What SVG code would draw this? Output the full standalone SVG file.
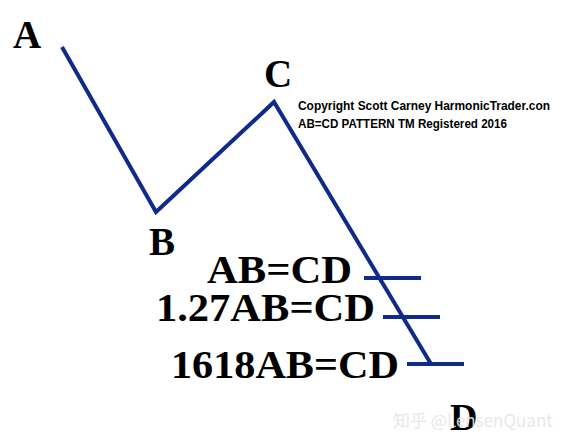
<svg xmlns="http://www.w3.org/2000/svg" width="563" height="443" viewBox="0 0 563 443">
<style>
.pt{font-family:"Liberation Serif","Times New Roman",serif;font-weight:bold;fill:#000;}
.lbl{font-family:"Liberation Serif","Times New Roman",serif;font-weight:bold;font-size:39px;fill:#000;}
.ln{stroke:#0f2a8a;stroke-width:4;fill:none;stroke-linejoin:miter;}
.cp{font-family:"Liberation Sans",Arial,sans-serif;font-weight:bold;font-size:12.5px;fill:#000;}
</style>
<rect width="563" height="443" fill="#fff"/>
<g id="connectors">
<polyline class="ln" points="62,47 156,212 274,102 431,364"/>
<line class="ln" x1="364" y1="278" x2="421" y2="278"/>
<line class="ln" x1="383" y1="317" x2="440" y2="317"/>
<line class="ln" x1="407" y1="364" x2="464" y2="364"/>
</g>
<g id="A"><text class="pt" x="13" y="48" font-size="39">A</text></g>
<g id="B"><text class="pt" x="149" y="255" font-size="39">B</text></g>
<g id="C"><text class="pt" x="264" y="87" font-size="39">C</text></g>
<g id="D"><text class="pt" x="450" y="430" font-size="38">D</text></g>
<g id="labels">
<text class="lbl" x="207" y="283" textLength="145" lengthAdjust="spacingAndGlyphs">AB=CD</text>
<text class="lbl" x="156" y="321" textLength="219" lengthAdjust="spacingAndGlyphs">1.27AB=CD</text>
<text class="lbl" x="171" y="378" textLength="228" lengthAdjust="spacingAndGlyphs">1618AB=CD</text>
</g>
<g id="copyright">
<text class="cp" x="298" y="110" textLength="252" lengthAdjust="spacingAndGlyphs">Copyright Scott Carney HarmonicTrader.con</text>
<text class="cp" x="298" y="128" textLength="209" lengthAdjust="spacingAndGlyphs">AB=CD PATTERN TM Registered 2016</text>
</g>
<g id="watermark">
<text x="393" y="427" font-family="'Noto Sans CJK SC','Noto Sans',sans-serif" font-size="17" fill="#e6e6e6" opacity="0.9">知乎 @LensenQuant</text>
</g>
</svg>
